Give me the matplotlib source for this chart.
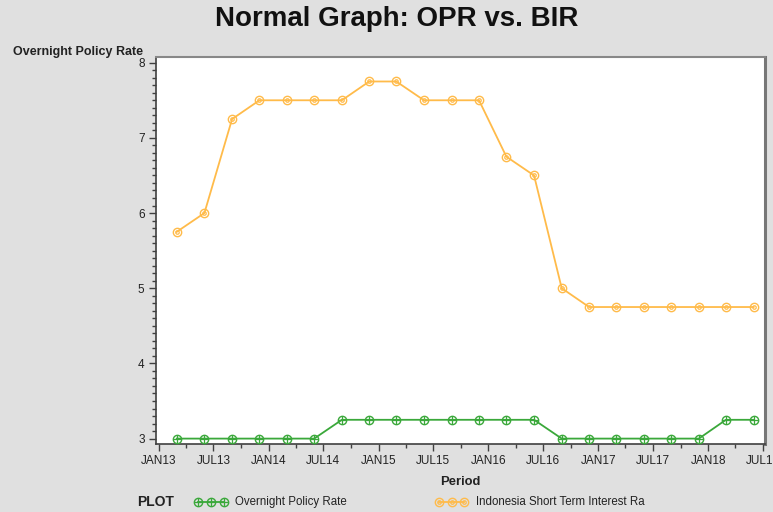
import matplotlib
matplotlib.use("Agg")
import matplotlib.pyplot as plt
import matplotlib.dates as mdates
from matplotlib.lines import Line2D
from matplotlib.ticker import MultipleLocator
import datetime as dt

# ---- data ----
periods = ["2013-03", "2013-06", "2013-09", "2013-12", "2014-03", "2014-06", "2014-09", "2014-12",
           "2015-03", "2015-06", "2015-09", "2015-12", "2016-03", "2016-06", "2016-09", "2016-12",
           "2017-03", "2017-06", "2017-09", "2017-12", "2018-03", "2018-06"]
opr = [3.0, 3.0, 3.0, 3.0, 3.0, 3.0, 3.25, 3.25, 3.25, 3.25, 3.25, 3.25, 3.25, 3.25,
       3.0, 3.0, 3.0, 3.0, 3.0, 3.0, 3.25, 3.25]
bir = [5.75, 6.0, 7.25, 7.5, 7.5, 7.5, 7.5, 7.75, 7.75, 7.5, 7.5, 7.5, 6.75, 6.5,
       5.0, 4.75, 4.75, 4.75, 4.75, 4.75, 4.75, 4.75]
tick_dates = ["2013-01", "2013-07", "2014-01", "2014-07", "2015-01", "2015-07",
              "2016-01", "2016-07", "2017-01", "2017-07", "2018-01", "2018-07"]
tick_labels = ["JAN13", "JUL13", "JAN14", "JUL14", "JAN15", "JUL15",
               "JAN16", "JUL16", "JAN17", "JUL17", "JAN18", "JUL18"]
y_ticks = [3, 4, 5, 6, 7, 8]
series_names = ["Overnight Policy Rate", "Indonesia Short Term Interest Ra"]

def to_date(s):
    y, m = s.split("-")
    return dt.date(int(y), int(m), 1)

x = [to_date(p) for p in periods]
xt = [to_date(t) for t in tick_dates]

plt.rcParams['font.family'] = ['Liberation Sans', 'DejaVu Sans']

BG = "#e0e0e0"
GREEN = "#3aa83a"
ORANGE = "#ffbb4a"
MS = 6

fig = plt.figure(figsize=(7.73, 5.12), dpi=100, facecolor=BG)
ax = fig.add_axes([0.2014, 0.1328, 0.9897 - 0.2014, 0.8877 - 0.1328])
ax.set_facecolor("white")

def plot_series(vals, color, inner):
    ax.plot(x, vals, color=color, lw=1.3, zorder=2)
    ax.plot(x, vals, ls="none", marker="o", ms=MS, mfc="none", mec=color, mew=1.0, zorder=3)
    ax.plot(x, vals, ls="none", marker=inner, ms=(MS if inner == "+" else 2.5),
            mfc="none", mec=color, mew=0.9, zorder=3)

plot_series(opr, GREEN, "+")
plot_series(bir, ORANGE, "o")

ax.set_xlim(dt.date(2012, 12, 21), dt.date(2018, 7, 9))
ax.set_ylim(2.928, 8.069)

ax.set_xticks(xt)
ax.set_xticklabels(tick_labels)
ax.xaxis.set_minor_locator(mdates.MonthLocator(bymonth=[4, 10]))
ax.set_yticks(y_ticks)
ax.set_yticklabels([str(v) for v in y_ticks])
ax.yaxis.set_minor_locator(MultipleLocator(0.1))

ax.tick_params(axis="both", which="major", direction="out", length=5, width=1,
               color="#404040", labelsize=8.5, labelcolor="#222222")
ax.tick_params(axis="both", which="minor", direction="out", length=3, width=1, color="#404040")
ax.tick_params(axis="x", pad=3)
ax.tick_params(axis="y", pad=3)

for s in ["left", "bottom"]:
    ax.spines[s].set_color("#404040")
    ax.spines[s].set_linewidth(1.2)
ax.spines["top"].set_color("#888888")
ax.spines["top"].set_linewidth(1.5)
ax.spines["right"].set_color("#777777")
ax.spines["right"].set_linewidth(2.2)

fig.text(397 / 773, 0.962, "Normal Graph: OPR vs. BIR", ha="center", va="center",
         fontsize=20, fontweight="bold", color="#111111")
fig.text(13 / 773, 1 - 52 / 512, "Overnight Policy Rate", ha="left", va="center",
         fontsize=9, fontweight="bold", color="#222222")
fig.text(460 / 773, 1 - 482 / 512, "Period", ha="center", va="center",
         fontsize=9.4, fontweight="bold", color="#222222")
fig.text(137 / 773, 1 - 502 / 512, "PLOT", ha="left", va="center",
         fontsize=10, fontweight="bold", color="#222222")

def legend_item(x0, x1, tx, color, inner, label):
    yy = 1 - 502 / 512
    xs = [x0 / 773, (x0 + x1) / 2 / 773, x1 / 773]
    fig.add_artist(Line2D(xs, [yy] * 3, transform=fig.transFigure, color=color, lw=1.3))
    fig.add_artist(Line2D(xs, [yy] * 3, transform=fig.transFigure, ls="none", marker="o",
                          ms=MS, mfc="none", mec=color, mew=1.0))
    fig.add_artist(Line2D(xs, [yy] * 3, transform=fig.transFigure, ls="none", marker=inner,
                          ms=(MS if inner == "+" else 2.5), mfc="none", mec=color, mew=0.9))
    fig.text(tx / 773, yy, label, ha="left", va="center", fontsize=8.3, color="#222222")

legend_item(198, 224, 235, GREEN, "+", series_names[0])
legend_item(439, 464, 476, ORANGE, "o", series_names[1])

fig.savefig("out.png", dpi=100, facecolor=BG)
